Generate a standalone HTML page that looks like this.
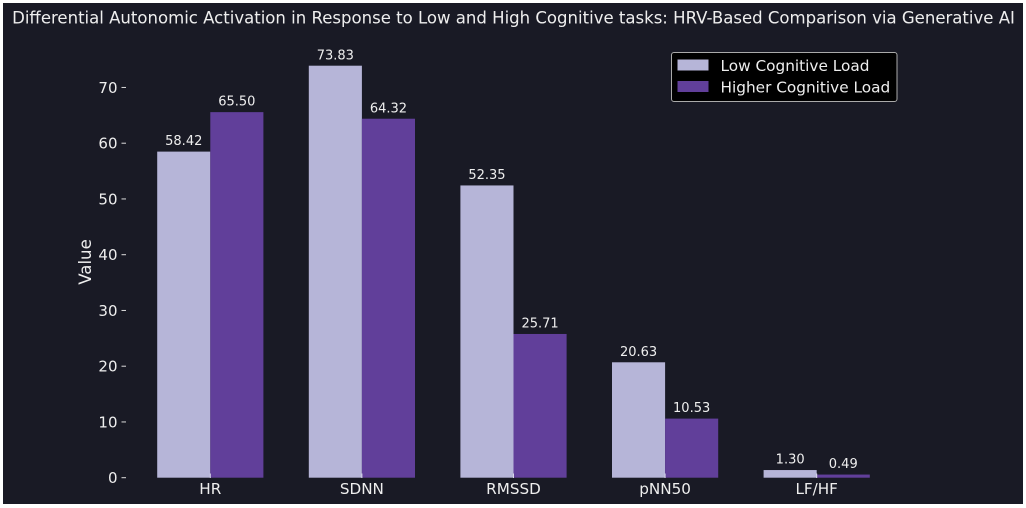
<!DOCTYPE html>
<html lang="en">
<head>
<meta charset="utf-8">
<title>HRV-Based Comparison</title>
<style>
html,body{margin:0;padding:0;background:#fff;width:1026px;height:508px;overflow:hidden}
svg{display:block;font-family:"DejaVu Sans","Liberation Sans",sans-serif}
</style>
</head>
<body>
<svg id="chart" xmlns="http://www.w3.org/2000/svg" width="1026" height="508" viewBox="0 0 1026 508">
<rect x="3" y="3" width="1020" height="501" fill="#191a25"/>
<text x="513.5" y="23.5" fill="#eeeeee" font-size="16.55" text-anchor="middle">Differential Autonomic Activation in Response to Low and High Cognitive tasks: HRV-Based Comparison via Generative AI</text>
<text transform="translate(91 262) rotate(-90)" fill="#eeeeee" font-size="16.6" text-anchor="middle">Value</text>
<g id="y-axis"></g>
<g id="bars"></g>
<g id="x-axis"></g>
<g id="labels"></g>
<g>
<rect x="671.5" y="52.5" width="225.5" height="49" rx="2.5" fill="#000" stroke="#aaa" stroke-width="1"/>
<rect x="677.5" y="59.5" width="31" height="11" fill="#b6b5d8"/>
<text x="720.5" y="71" fill="#eeeeee" font-size="15.3">Low Cognitive Load</text>
<rect x="677.5" y="81" width="31" height="11" fill="#613f9a"/>
<text x="720.5" y="92.5" fill="#eeeeee" font-size="15.3">Higher Cognitive Load</text>
</g>
</svg>
<script>
const categories = ["HR", "SDNN", "RMSSD", "pNN50", "LF/HF"];
const lowValues = [58.42, 73.83, 52.35, 20.63, 1.30];
const highValues = [65.50, 64.32, 25.71, 10.53, 0.49];
const yTicks = [0, 10, 20, 30, 40, 50, 60, 70];

const NS = "http://www.w3.org/2000/svg";
const barWidth = 53.1;
function xScale(i) { return 210.3 + i * 151.6; }
function yScale(v) { return 477.7 - v * 5.575; }
function make(tag, attrs, parent, text) {
  const el = document.createElementNS(NS, tag);
  for (const k in attrs) el.setAttribute(k, attrs[k]);
  if (text !== undefined) el.textContent = text;
  parent.appendChild(el);
  return el;
}
const yAxis = document.getElementById("y-axis");
const xAxis = document.getElementById("x-axis");
const bars = document.getElementById("bars");
const labels = document.getElementById("labels");

yTicks.forEach(function (t) {
  const y = yScale(t);
  const mark = make("line", {x1: 121.5, x2: 126, y1: y, y2: y, stroke: "#dddddd", "stroke-width": 1}, yAxis);
  
  
  const label = make("text", {x: 117.5, y: y + 5.3, fill: "#eeeeee", "font-size": 15, "text-anchor": "end"}, yAxis, String(t));
  
  
});

categories.forEach(function (c, i) {
  const cx = xScale(i);
  const tick = make("line", {x1: cx, x2: cx, y1: 473.5, y2: 478, stroke: "#d8d8ea", "stroke-width": 1}, xAxis);
  
  
  const label = make("text", {x: cx, y: 494, fill: "#eeeeee", "font-size": 15.2, "text-anchor": "middle"}, xAxis, c);
  
  

  const lowTop = yScale(lowValues[i]);
  const highTop = yScale(highValues[i]);
  const lowBar = make("rect", {x: cx - barWidth, y: lowTop - 0.4, width: barWidth, height: yScale(0) - lowTop + 0.4, fill: "#b6b5d8"}, bars);
  
  
  const highBar = make("rect", {x: cx, y: highTop - 0.4, width: barWidth, height: yScale(0) - highTop + 0.4, fill: "#613f9a"}, bars);
  
  

  const lowText = make("text", {x: cx - barWidth / 2, y: lowTop - 6.8, fill: "#eeeeee", "font-size": 13, "text-anchor": "middle"}, labels, lowValues[i].toFixed(2));
  
  
  const highText = make("text", {x: cx + barWidth / 2, y: highTop - 6.8, fill: "#eeeeee", "font-size": 13, "text-anchor": "middle"}, labels, highValues[i].toFixed(2));
  
  
});
</script>
</body>
</html>
